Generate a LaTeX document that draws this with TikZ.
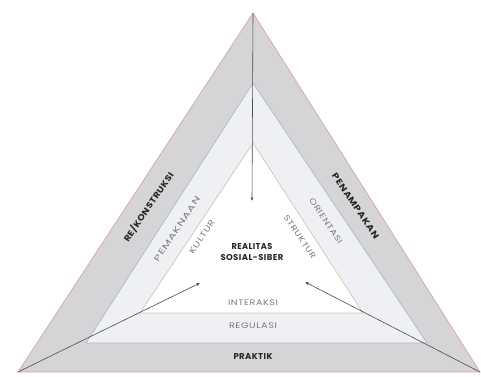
\documentclass[tikz,border=0pt]{standalone}
\usepackage{fontspec}
\setmainfont{Poppins}
\usetikzlibrary{arrows.meta}
\definecolor{bandgray}{HTML}{D5D5D7}
\definecolor{bandlight}{HTML}{EEF0F4}
\definecolor{outeredge}{HTML}{D9A3A8}
\definecolor{midedge}{HTML}{A9BACB}
\definecolor{inneredge}{HTML}{C9CCB2}
\definecolor{softtext}{HTML}{7A7A7A}
\newsavebox\fitbox
\newcommand{\fitto}[2]{\sbox\fitbox{#2}\pgfmathsetmacro\fitratio{#1/\wd\fitbox}\scalebox{\fitratio}[1]{\usebox\fitbox}}
\tikzset{
  boldlbl/.style={font=\fontsize{8.5}{10.5}\selectfont\bfseries\addfontfeatures{LetterSpace=5}, text=black!85, inner sep=0pt, align=center},
  softlbl/.style={font=\fontsize{8}{9.5}\selectfont\addfontfeatures{LetterSpace=6}, text=softtext, inner sep=0pt},
  arrowline/.style={draw=black!70, line width=0.6pt, -{Latex[length=3.5pt,width=3pt]}}
}
\begin{document}
\begin{tikzpicture}[x=1pt,y=-1pt]
\useasboundingbox (0,0) rectangle (481,376);
\coordinate (OT) at (253,13);
\coordinate (OL) at (18,372);
\coordinate (OR) at (480,372);
\coordinate (MT) at (253,83);
\coordinate (ML) at (86,343);
\coordinate (MR) at (427,343);
\coordinate (IT) at (253,143);
\coordinate (IL) at (140,313);
\coordinate (IR) at (363,313);
\coordinate (AT) at (252,201);
\coordinate (AL) at (200,283);
\coordinate (AR) at (305,282);
% bands
\fill[bandgray] (OT) -- (OL) -- (OR) -- cycle;
\filldraw[fill=bandlight, draw=midedge, line width=0.7pt] (MT) -- (ML) -- (MR) -- cycle;
\filldraw[fill=white, draw=inneredge, line width=0.7pt] (IT) -- (IL) -- (IR) -- cycle;
\draw[outeredge, line width=0.7pt] (OT) -- (OL) -- (OR) -- cycle;
% arrows
\draw[arrowline] (OT) -- (AT);
\draw[arrowline] (OL) -- (AL);
\draw[arrowline] (OR) -- (AR);
% labels
\node[boldlbl, rotate=56] (rek) at (148.5,207) {\fitto{82}{RE/KONSTRUKSI}};
\node[boldlbl, rotate=-56] (pen) at (355.5,206) {\fitto{77}{PENAMPAKAN}};
\node[boldlbl] (pra) at (253,357) {\fitto{39}{PRAKTIK}};
\node[softlbl, rotate=56] (pem) at (177,229) {\fitto{76}{PEMAKNAAN}};
\node[softlbl, rotate=-56] (ori) at (326,221) {\fitto{53}{ORIENTASI}};
\node[softlbl, rotate=56] (kul) at (202,237) {\fitto{39}{KULTUR}};
\node[softlbl, rotate=-56] (str) at (300,237) {\fitto{51}{STRUKTUR}};
\node[softlbl] (int) at (253,303) {\fitto{50}{INTERAKSI}};
\node[softlbl] (reg) at (253,326) {\fitto{48}{REGULASI}};
\node[boldlbl] (real) at (252,252) {\fitto{41}{REALITAS}\\\fitto{63}{SOSIAL-SIBER}};
\end{tikzpicture}
\end{document}
